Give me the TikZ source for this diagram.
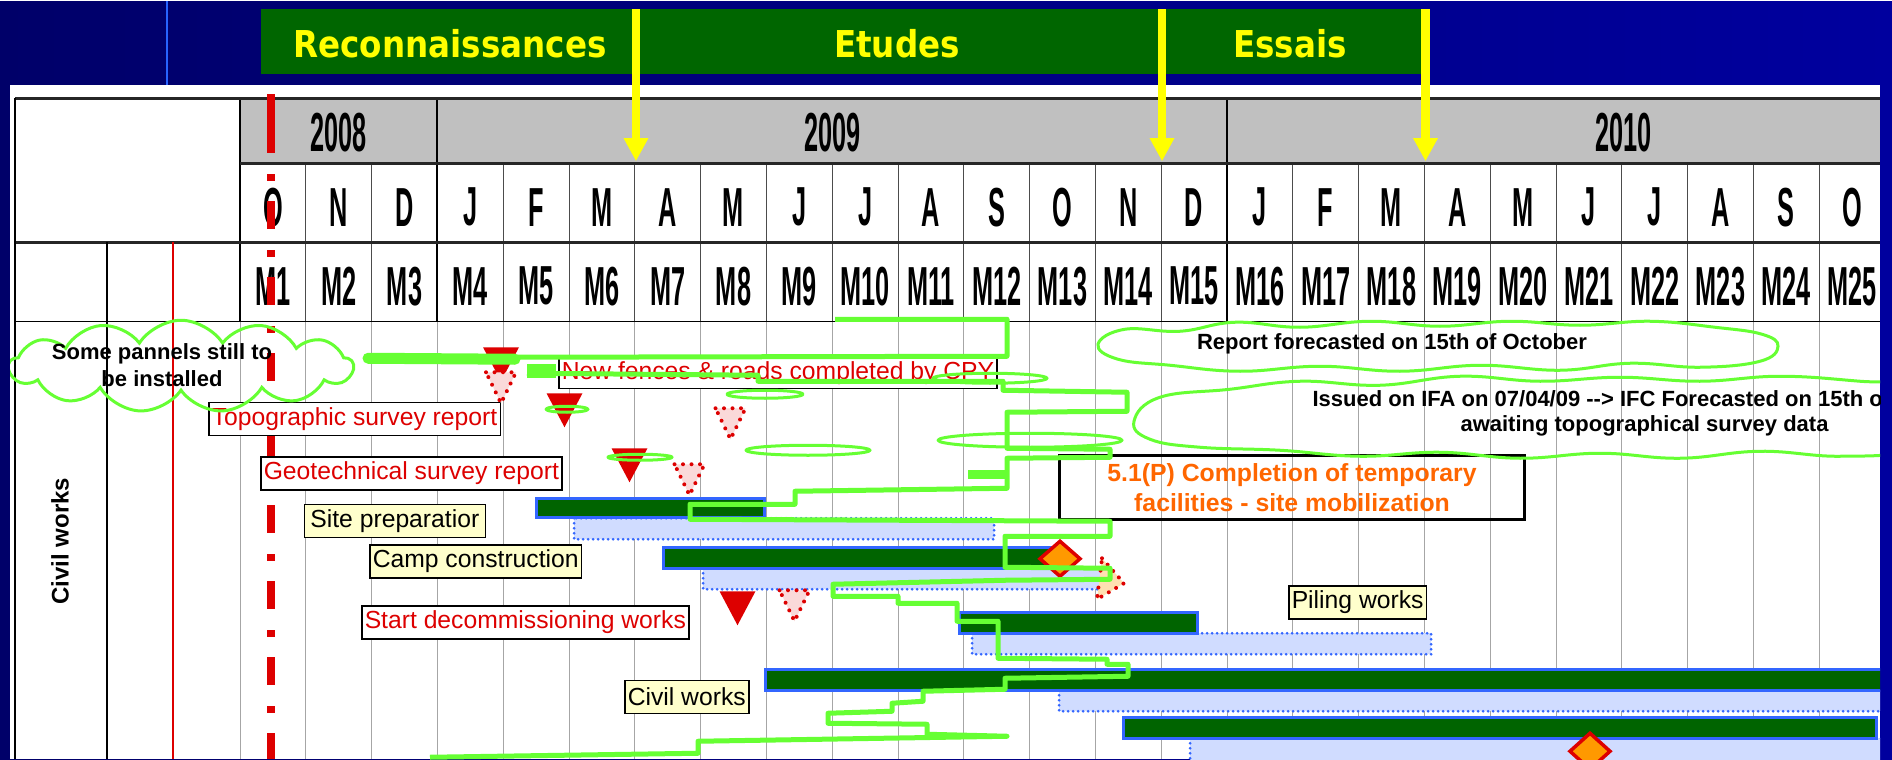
\documentclass[tikz,border=0pt]{standalone}
\usepackage{fontspec}
\setmainfont{Liberation Sans}
\newfontfamily\hdrfont[FakeStretch=0.46]{Liberation Sans}
\newfontfamily\titlefont[FakeStretch=0.88]{DejaVu Sans}
\usetikzlibrary{arrows.meta,shapes.symbols}
\definecolor{bgLeft}{RGB}{0,0,105}
\definecolor{bgRight}{RGB}{0,0,158}
\definecolor{titleGreen}{RGB}{0,102,0}
\definecolor{barGreen}{RGB}{0,100,0}
\definecolor{barBlue}{RGB}{51,102,255}
\definecolor{baseFill}{RGB}{208,220,255}
\definecolor{scribble}{RGB}{102,255,51}
\definecolor{msRed}{RGB}{221,0,0}
\definecolor{hdrGray}{RGB}{192,192,192}
\definecolor{noteYellow}{RGB}{255,255,204}
\definecolor{orangeTxt}{RGB}{255,102,0}
\definecolor{diaOrange}{RGB}{255,153,0}
\definecolor{arrowYellow}{RGB}{255,255,0}
\definecolor{edgeBlue}{RGB}{40,100,255}

\begin{document}
\begin{tikzpicture}[x=1pt,y=-1pt,
  hdr text/.style={font=\hdrfont\bfseries\fontsize{55}{60}\selectfont,inner sep=0pt},
  title text/.style={font=\titlefont\bfseries\fontsize{37}{40}\selectfont,text=arrowYellow},
  label box/.style={draw=black,line width=1.5pt,inner xsep=3pt,inner ysep=0pt,
    minimum height=33pt,anchor=west,font=\fontsize{24.7}{28}\selectfont},
  red label/.style={label box,fill=white,text=msRed},
  note label/.style={label box,fill=noteYellow},
  note cloud/.style={cloud,cloud puffs=13,cloud puff arc=115,cloud ignores aspect,
    draw=scribble,line width=3pt},
  cloud loop/.style={draw=scribble,line width=3pt,smooth cycle,tension=0.7},
  cloud text/.style={font=\bfseries\fontsize{22}{27}\selectfont,align=center},
  bar/.style={draw=barBlue,line width=3pt,fill=barGreen},
  baseline/.style={draw=barBlue,line width=3pt,dash pattern=on 0pt off 5pt,
    line cap=round,fill=baseFill},
  milestone/.style={fill=msRed},
  dotted milestone/.style={draw=msRed,line width=4pt,dash pattern=on 0pt off 8.5pt,
    line cap=round,fill=msRed!15},
  diamond ms/.style={fill=diaOrange,draw=msRed,line width=3.5pt},
  scribble line/.style={draw=scribble,line width=5pt,line join=round},
  today line/.style={draw=msRed,line width=8pt},
  grid line/.style={draw=gray!70,line width=1pt},
  month line/.style={draw=gray!60!black,line width=1pt},
  year line/.style={draw=black,line width=2pt},
  rule line/.style={draw=gray!30!black,line width=3pt},
  yellow arrow/.style={draw=arrowYellow,line width=8.5pt,-{Triangle[width=23pt,length=23pt]}}]

\shade[left color=bgLeft,right color=bgRight] (0,0) rectangle (1892,758);
\draw[edgeBlue,line width=2.5pt] (167,0) -- (167,84);
\fill[white] (10,84) rectangle (1880,758);

\fill[titleGreen] (261,8) rectangle (1422,73);
\node[title text] (reco) at (450,42) {Reconnaissances};
\node[title text] (etud) at (897,42) {Etudes};
\node[title text] (essa) at (1290,42) {Essais};

\begin{scope}
  \clip (10,84) rectangle (1880,758);
  \fill[hdrGray] (240,97) rectangle (1880,162);
  \foreach \i in {1,...,25}
    \draw[grid line] ({240+(\i-1)*65.8},320) -- ({240+(\i-1)*65.8},758);
  \foreach \i in {2,...,25}
    \draw[month line] ({240+(\i-1)*65.8},162) -- ({240+(\i-1)*65.8},320);
  \foreach \x in {240,437.4,1227}
    \draw[year line] (\x,97) -- (\x,320);
  \draw[rule line] (15,97) -- (1880,97);
  \draw[rule line] (240,162) -- (1880,162);
  \draw[rule line] (15,241) -- (1880,241);
  \draw[black,line width=1.5pt] (15,320) -- (1880,320);
  \draw[black,line width=1.5pt] (15,97) -- (15,758);
  \draw[black,line width=2pt] (107,241) -- (107,758);
  \draw[msRed,line width=1.5pt] (173,241) -- (173,758);

  \node[hdr text] (y2008) at (338.7,131) {2008};
  \node[hdr text] (y2009) at (832.2,131) {2009};
  \node[hdr text] (y2010) at (1623.8,131) {2010};
  \foreach \m [count=\i] in {O,N,D,J,F,M,A,M,J,J,A,S,O,N,D,J,F,M,A,M,J,J,A,S,O}
    \node[hdr text] (mon\i) at ({240+(\i-0.5)*65.8},206) {\m};
  \foreach \i in {1,...,25}
    \node[hdr text] (mm\i) at ({240+(\i-0.5)*65.8},285) {M\i};

  \node[rotate=90,font=\bfseries\fontsize{24}{28}\selectfont] (civil) at (60,540) {Civil works};

  \draw[baseline] (574,517) rectangle (994,538);
  \draw[bar] (536,497) rectangle (764,516);
  \draw[baseline] (703,567) rectangle (1105,588);
  \draw[bar] (663,546) rectangle (1052,567);
  \draw[baseline] (972,632) rectangle (1431,653);
  \draw[bar] (959,611) rectangle (1197,632);
  \draw[baseline] (1059,689) rectangle (1900,710);
  \draw[bar] (765,668) rectangle (1900,689);
  \draw[baseline] (1190,737) rectangle (1900,765);
  \draw[bar] (1123,716) rectangle (1876,737);

  \draw[today line] (271,93) -- (271,152);
  \draw[today line,dash pattern=on 28pt off 21pt on 7pt off 20pt] (271,124) -- (271,758);

  \node[red label] (topo) at (208,417.5) {Topographic survey report};
  \node[red label] (geot) at (260,472) {Geotechnical survey report};
  \node[note label,minimum width=181pt] (sitep) at (303.6,519.5) {Site preparatior};
  \node[note label] (camp) at (369,560) {Camp construction};
  \node[red label] (decom) at (361,621) {Start decommissioning works};
  \node[note label] (cwork) at (624,695.5) {Civil works};
  \node[note label] (pile) at (1288,601) {Piling works};
  \node[red label,minimum height=31pt] (fence) at (558,371.5) {New fences \& roads completed by CPY};
  \node[draw=black,line width=3pt,minimum width=465pt,minimum height=64pt,align=center,
    text=orangeTxt,font=\bfseries\fontsize{24.8}{30}\selectfont] (mobil) at (1292,486)
    {5.1(P) Completion of temporary\\facilities - site mobilization};

  \foreach \x/\y in {501/346,564.5/392,629.5/447,737.5/590}
    \fill[milestone] (\x-18,\y) -- (\x+18,\y) -- (\x,\y+34) -- cycle;
  \foreach \x/\y in {501/371,730.5/407,689.5/463,794.5/589}
    \draw[dotted milestone] (\x-15,\y) -- (\x+15,\y) -- (\x,\y+31) -- cycle;
  \draw[dotted milestone,fill=diaOrange!30] (1102,557) -- (1124,582) -- (1097,598) -- cycle;
  \draw[diamond ms] (1060,540) -- (1080,557.5) -- (1060,575) -- (1040,557.5) -- cycle;
  \draw[diamond ms] (1590,732) -- (1610,750) -- (1590,768) -- (1570,750) -- cycle;

  \draw[scribble line,line width=11pt,line cap=round] (368,357) -- (515,358);
  \draw[scribble line] (835,318) -- (1007,318) -- (1007,355) -- (515,356);
  \fill[scribble] (527,363) rectangle (556,377);
  \draw[scribble line,line width=9pt] (968,473) -- (1005,473);
  \draw[scribble line] (527,372) -- (758,374) -- (758,380) -- (1003,380) -- (1003,389)
    -- (1127,391) -- (1127,410) -- (1007,411) -- (1007,447) -- (1110,448) -- (1110,456)
    -- (1007,457) -- (1007,487) -- (795,490) -- (795,503) -- (690,503) -- (690,518)
    -- (1110,520) -- (1110,535) -- (1005,535) -- (1005,566) -- (1110,567) -- (1110,578)
    -- (1005,579) -- (833,583) -- (833,595) -- (898,595) -- (898,602) -- (957,602)
    -- (957,620) -- (998,620) -- (998,657) -- (1107,658) -- (1107,663) -- (1128,663)
    -- (1128,675) -- (1005,677) -- (1005,688) -- (923,690) -- (923,700) -- (892,702)
    -- (892,710) -- (828,712) -- (828,722) -- (927,723) -- (927,733) -- (1007,735)
    -- (698,740) -- (698,752) -- (430,756);
  \draw[scribble line,line width=3pt] (765,393) ellipse [x radius=38pt,y radius=4pt];
  \draw[scribble line,line width=3pt] (808,449) ellipse [x radius=62pt,y radius=5pt];
  \draw[scribble line,line width=3pt] (1030,439) ellipse [x radius=92pt,y radius=7pt];
  \draw[scribble line,line width=3pt] (990,377) ellipse [x radius=57pt,y radius=5pt];
  \draw[scribble line,line width=3pt] (567,408) ellipse [x radius=21pt,y radius=3pt];
  \draw[scribble line,line width=3pt] (640,456) ellipse [x radius=32pt,y radius=3pt];

  \node[note cloud,minimum width=344pt,minimum height=92pt] (cloudA) at (181,365) {};
  \draw[cloud loop] plot coordinates {(1098,343) (1125,328) (1180,330) (1235,321) (1300,326)
    (1370,320) (1440,325) (1510,320) (1580,324) (1650,320) (1715,326) (1762,333) (1778,345)
    (1760,360) (1700,366) (1630,362) (1560,369) (1480,364) (1400,370) (1320,365)
    (1240,370) (1170,364) (1118,358)};
  \draw[cloud loop] plot coordinates {(1134,420) (1160,396) (1230,388) (1300,380) (1380,384)
    (1460,375) (1540,380) (1620,376) (1700,380) (1780,375) (1860,380) (1910,385)
    (1920,416) (1910,448) (1840,455) (1760,450) (1680,457) (1600,452) (1520,457)
    (1440,451) (1360,455) (1280,449) (1200,446) (1150,438)};
  \node[cloud text] (noteA) at (162,364) {Some pannels still to\\be installed};
  \node[cloud text] (noteB) at (1392,343) {Report forecasted on 15th of October};
  \node[cloud text,anchor=west] (noteC) at (1309,397) {Issued on IFA on 07/04/09 -{}-> IFC Forecasted on 15th o};
  \node[cloud text] (noteD) at (1644.5,425) {awaiting topographical survey data};
\end{scope}

\foreach \x [count=\k] in {636,1162,1425.5} {
  \coordinate (top\k) at (\x,8);
  \coordinate (tip\k) at (\x,160);
  \draw[yellow arrow] (top\k) -- (tip\k);
}
\end{tikzpicture}
\end{document}
